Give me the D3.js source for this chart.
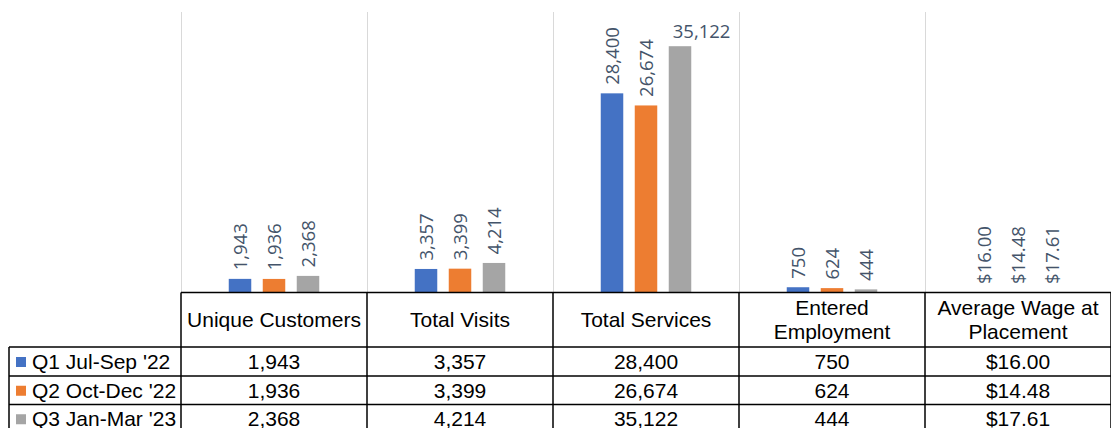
<!DOCTYPE html>
<html>
<head>
<meta charset="utf-8">
<script src="https://cdn.jsdelivr.net/npm/d3@7"></script>
<style>
  html, body { margin: 0; padding: 0; background: #fff; }
  svg { display: block; }
</style>
</head>
<body>
<svg id="chart" width="1111" height="428"></svg>
<script>
// --- DATA --------------------------------------------------------------------
const categories = [
  ['Unique Customers'],
  ['Total Visits'],
  ['Total Services'],
  ['Entered', 'Employment'],
  ['Average Wage at', 'Placement']
];
const seriesNames = ["Q1 Jul-Sep '22", "Q2 Oct-Dec '22", "Q3 Jan-Mar '23"];
const q1Values = [1943, 3357, 28400, 750, 16.00];
const q2Values = [1936, 3399, 26674, 624, 14.48];
const q3Values = [2368, 4214, 35122, 444, 17.61];
const isMoney  = [false, false, false, false, true];
const yDomain  = [0, 40000];

// --- LAYOUT ------------------------------------------------------------------
const W = 1111, H = 428;
const PLOT_L = 181, PLOT_R = 1111, PLOT_T = 12, BASE_Y = 292.5;
const ROW_Y = [292.5, 347, 376, 404.5, 433];
const LEGEND_L = 9;
const COLORS = ['#4472C4', '#ED7D31', '#A5A5A5'];
const LABEL_COL = '#44546A';
const GRID_COL = '#D9D9D9';
const TABLE_FONT = '"Liberation Sans", Arial, sans-serif';
const LABEL_FONT = '"Open Sans", sans-serif';
const LABEL_SIZE = 18.5;
const LABEL_GAP = 8.5;

const values = [q1Values, q2Values, q3Values];
const catIdx = d3.range(categories.length);

const fmtInt = d3.format(',');
const fmtMoney = d3.format('$.2f');
const fmt = (v, i) => isMoney[i] ? fmtMoney(v) : fmtInt(v);

const svg = d3.select('#chart');

const x = d3.scaleBand().domain(catIdx).range([PLOT_L, PLOT_R]).padding(0);
const groupW = 90.5;
const xs = d3.scaleBand().domain(d3.range(seriesNames.length))
  .range([0, groupW]).paddingInner(0.338).paddingOuter(0);
const groupOff = (x.bandwidth() - groupW) / 2;
const y = d3.scaleLinear().domain(yDomain).range([BASE_Y, PLOT_T]);

// gridlines (vertical, at category boundaries)
svg.append('g').selectAll('line')
  .data(catIdx)
  .join('line')
  .attr('x1', d => x(d) + 0.5).attr('x2', d => x(d) + 0.5)
  .attr('y1', PLOT_T).attr('y2', BASE_Y)
  .attr('stroke', GRID_COL).attr('stroke-width', 1);

// bars
const bars = [];
values.forEach((vals, s) => vals.forEach((v, c) => bars.push({ s, c, v })));

svg.append('g').selectAll('rect')
  .data(bars)
  .join('rect')
  .attr('x', d => x(d.c) + groupOff + xs(d.s))
  .attr('width', xs.bandwidth())
  .attr('y', d => y(d.v))
  .attr('height', d => BASE_Y - y(d.v))
  .attr('fill', d => COLORS[d.s]);

// data labels (rotated; horizontal when they would run off the top)
const lblG = svg.append('g')
  .attr('font-family', LABEL_FONT).attr('font-size', LABEL_SIZE).attr('fill', LABEL_COL);

bars.forEach(d => {
  const bx = x(d.c) + groupOff + xs(d.s);
  const cx = bx + xs.bandwidth() / 2;
  const top = y(d.v);
  const t = lblG.append('text').text(fmt(d.v, d.c));
  const len = t.node().getComputedTextLength();
  if (top - LABEL_GAP - len < 0) {
    t.attr('x', bx + 4).attr('y', top - LABEL_GAP);
  } else {
    t.attr('transform', `translate(${cx + LABEL_SIZE * 0.36},${top - LABEL_GAP}) rotate(-90)`);
  }
});

// --- DATA TABLE --------------------------------------------------------------
const tbl = svg.append('g')
  .attr('font-family', TABLE_FONT).attr('font-size', 21).attr('fill', '#000');
const lineStyle = sel => sel.attr('stroke', '#000').attr('stroke-width', 1.5).attr('fill', 'none');

// horizontal lines
ROW_Y.forEach((ry, i) => {
  tbl.append('line')
    .attr('x1', i === 0 ? PLOT_L : LEGEND_L).attr('x2', PLOT_R)
    .attr('y1', ry).attr('y2', ry).call(lineStyle);
});
// vertical lines
catIdx.forEach(c => {
  tbl.append('line')
    .attr('x1', x(c)).attr('x2', x(c))
    .attr('y1', ROW_Y[0]).attr('y2', H).call(lineStyle);
});
tbl.append('line').attr('x1', PLOT_R).attr('x2', PLOT_R)
  .attr('y1', ROW_Y[0]).attr('y2', H).call(lineStyle);
tbl.append('line').attr('x1', LEGEND_L).attr('x2', LEGEND_L)
  .attr('y1', ROW_Y[1]).attr('y2', H).call(lineStyle);

// header cells
categories.forEach((lines, c) => {
  const cy = (ROW_Y[0] + ROW_Y[1]) / 2;
  const lh = 24;
  lines.forEach((ln, k) => {
    tbl.append('text')
      .attr('x', x(c) + x.bandwidth() / 2)
      .attr('y', cy + (k - (lines.length - 1) / 2) * lh + 7.5)
      .attr('text-anchor', 'middle')
      .text(ln);
  });
});

// series rows
seriesNames.forEach((name, s) => {
  const cy = (ROW_Y[s + 1] + ROW_Y[s + 2]) / 2;
  tbl.append('rect')
    .attr('x', 16).attr('y', cy - 4.5).attr('width', 10).attr('height', 10)
    .attr('fill', COLORS[s]);
  tbl.append('text').attr('x', 32).attr('y', cy + 7.5).text(name);
  values[s].forEach((v, c) => {
    tbl.append('text')
      .attr('x', x(c) + x.bandwidth() / 2)
      .attr('y', cy + 7.5)
      .attr('text-anchor', 'middle')
      .text(fmt(v, c));
  });
});
</script>
</body>
</html>
